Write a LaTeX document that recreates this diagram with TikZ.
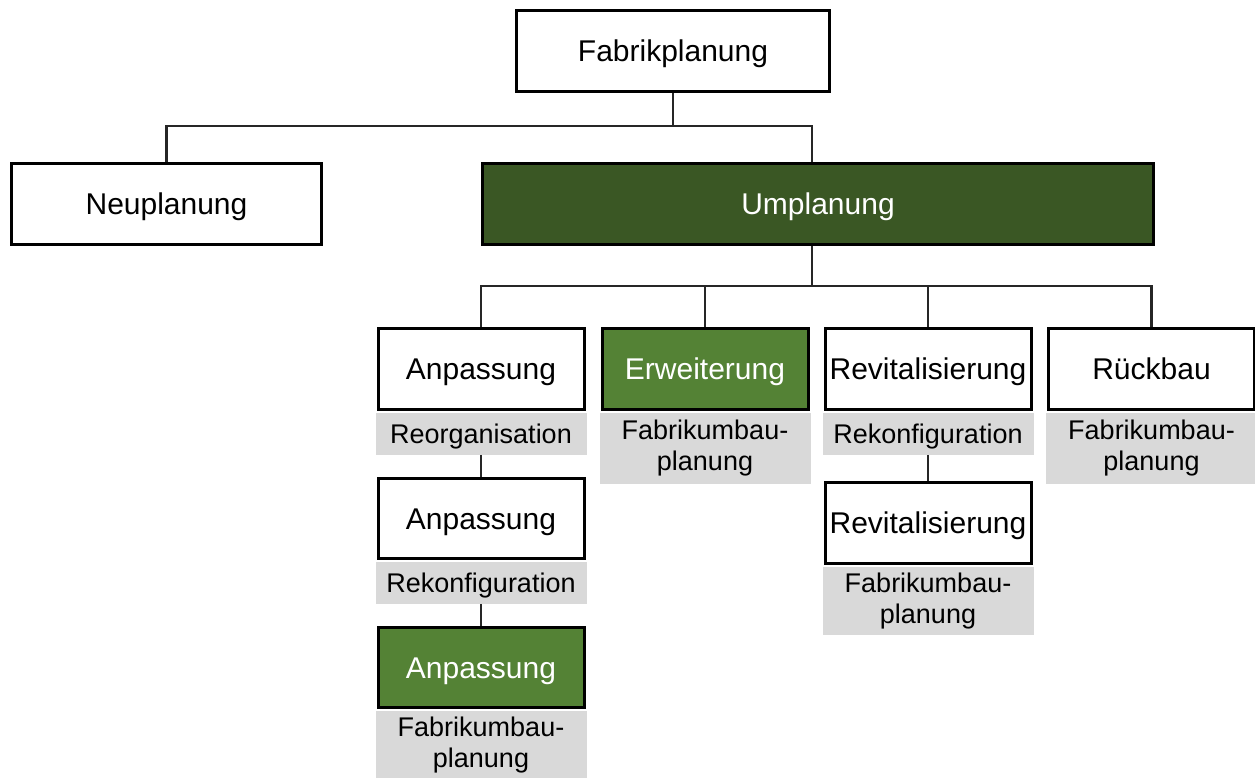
\documentclass[tikz,border=0pt]{standalone}
\usepackage{fontspec}
\setmainfont{Liberation Sans}
\definecolor{darkgreen}{HTML}{3A5724}
\definecolor{midgreen}{HTML}{548235}
\definecolor{labelgray}{HTML}{D9D9D9}
\tikzset{
  box/.style={draw=black, line width=3pt, fill=white, inner sep=0pt,
    minimum width=206pt, minimum height=81pt, text height=21.5pt, text depth=0pt,
    font=\fontsize{30}{34}\selectfont},
  darkbox/.style={box, fill=darkgreen, text=white},
  greenbox/.style={box, fill=midgreen, text=white},
  tag/.style={fill=labelgray, inner sep=0pt, minimum width=211pt, anchor=north,
    align=center, font=\fontsize{27}{31}\selectfont},
  onetag/.style={tag, text height=19.5pt, text depth=0pt, minimum height=42pt},
  link/.style={draw=black!85, line width=2.3pt}
}
\begin{document}
\begin{tikzpicture}[x=1pt, y=-1pt]
\useasboundingbox (0,0) rectangle (1255,778);

% top level
\node[box, minimum width=313pt] (fab) at (673,51) {Fabrikplanung};
\node[box, minimum width=310pt] (neu) at (166.5,204) {Neuplanung};
\node[darkbox, minimum width=671pt] (um) at (818,204) {Umplanung};

% second level
\node[box] (anp1) at (481,369) {Anpassung};
\node[onetag] (anp1t) at ([yshift=-1.5pt]anp1.south) {Reorganisation};
\node[greenbox] (erw) at (705,369) {Erweiterung};
\node[tag, minimum height=71pt] (erwt) at ([yshift=-1.5pt]erw.south) {Fabrikumbau-\\planung};
\node[box] (rev1) at (928,369) {Revitalisierung};
\node[onetag] (rev1t) at ([yshift=-1.5pt]rev1.south) {Rekonfiguration};
\node[box] (rueck) at (1151.5,369) {Rückbau};
\node[tag, minimum height=71pt] (rueckt) at ([yshift=-1.5pt]rueck.south) {Fabrikumbau-\\planung};

% chain below Anpassung
\node[box, minimum height=80pt] (anp2) at (481,518.5) {Anpassung};
\node[onetag] (anp2t) at ([yshift=-1.5pt]anp2.south) {Rekonfiguration};
\node[greenbox, minimum height=80pt] (anp3) at (481,667.5) {Anpassung};
\node[tag, minimum height=69pt] (anp3t) at ([yshift=-1.5pt]anp3.south) {Fabrikumbau-\\planung};

% chain below Revitalisierung
\node[box] (rev2) at (928,523) {Revitalisierung};
\node[tag, minimum height=68pt] (rev2t) at ([yshift=-1.5pt]rev2.south) {Fabrikumbau-\\planung};

% connectors
\coordinate (bus1) at (673,126);
\coordinate (bus2) at (812,286);
\draw[link] (fab.south) -- (bus1);
\draw[link] (neu.north) |- (bus1);
\draw[link] (bus1) -| (bus2 |- um.north);
\draw[link] (bus2 |- um.south) -- (bus2);
\draw[link] (anp1.north) |- (bus2);
\draw[link] (erw.north) |- (bus2);
\draw[link] (rev1.north) |- (bus2);
\draw[link] (rueck.north) |- (bus2);
\draw[link] (anp1t.south) -- (anp2.north);
\draw[link] (anp2t.south) -- (anp3.north);
\draw[link] (rev1t.south) -- (rev2.north);
\end{tikzpicture}
\end{document}
